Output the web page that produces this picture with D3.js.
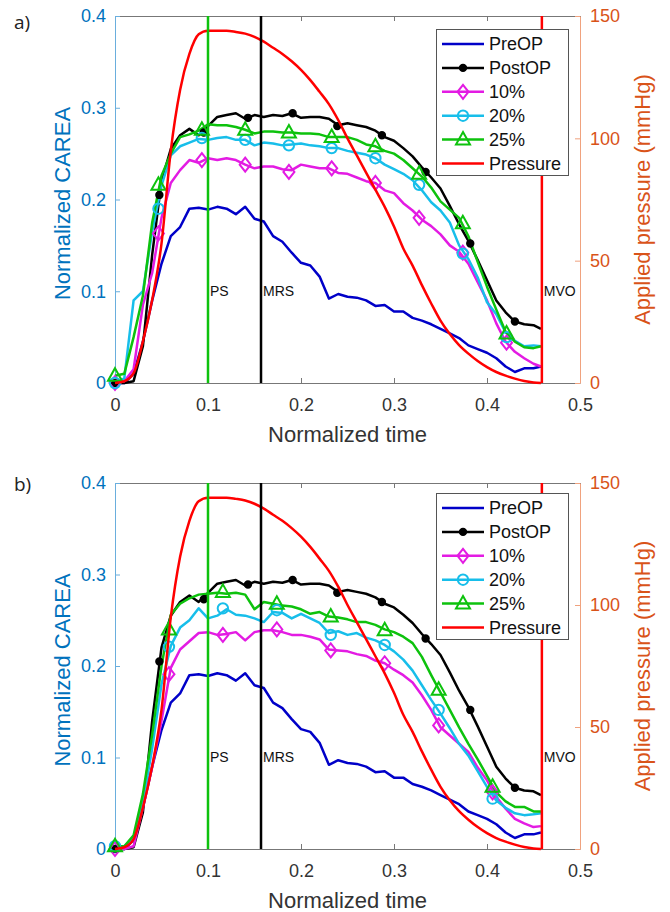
<!DOCTYPE html>
<html>
<head>
<meta charset="utf-8">
<script src="https://cdn.jsdelivr.net/npm/d3@7"></script>
<style>
body{margin:0;background:#fff;}
svg{display:block;font-family:"Liberation Sans",Arial,sans-serif;}
</style>
</head>
<body>
<svg id="chart" width="670" height="912"></svg>
<script>
// ---------------- DATA ----------------
const time = [0,0.01,0.02,0.03,0.04,0.05,0.06,0.07,0.08,0.09,0.10,0.11,0.12,0.13,0.14,0.15,0.16,0.17,0.18,0.19,0.20,0.21,0.22,0.23,0.24,0.25,0.26,0.27,0.28,0.29,0.30,0.31,0.32,0.33,0.34,0.35,0.36,0.37,0.38,0.39,0.40,0.41,0.42,0.43,0.44,0.45,0.458];

const preOP = [0,0,0.01,0.045,0.09,0.13,0.16,0.17,0.19,0.191,0.189,0.192,0.19,0.184,0.192,0.179,0.176,0.16,0.154,0.142,0.131,0.128,0.116,0.092,0.097,0.094,0.093,0.09,0.084,0.085,0.078,0.078,0.071,0.068,0.064,0.059,0.054,0.049,0.041,0.037,0.033,0.027,0.018,0.012,0.016,0.016,0.018];

const postOP = [0,0,0.002,0.04,0.14,0.22,0.255,0.27,0.277,0.27,0.28,0.29,0.292,0.294,0.288,0.292,0.29,0.292,0.291,0.294,0.289,0.29,0.29,0.288,0.281,0.283,0.281,0.279,0.275,0.268,0.264,0.256,0.247,0.235,0.224,0.212,0.193,0.173,0.155,0.134,0.112,0.09,0.077,0.067,0.064,0.063,0.059];

const pressure = [0,0.7,4,17,34,57,95,119.8,134.5,142.5,144,144,144,143.5,142.8,141.5,139.5,137,134.5,131.5,128,123.8,119,114,107.5,100,93,86,79,72,64,55,48,40,32.5,25.5,20,15.5,12,9,6.5,4.5,3,1.8,0.8,0.2,0];

// panel a
const a10 = [0,0.002,0.015,0.085,0.12,0.18,0.218,0.232,0.243,0.24,0.245,0.243,0.245,0.243,0.238,0.234,0.236,0.236,0.233,0.232,0.238,0.236,0.234,0.234,0.229,0.228,0.224,0.22,0.218,0.21,0.207,0.196,0.188,0.178,0.171,0.162,0.15,0.143,0.13,0.11,0.09,0.065,0.045,0.034,0.027,0.021,0.018];
const a20 = [0,0.005,0.09,0.1,0.165,0.215,0.248,0.258,0.262,0.266,0.265,0.267,0.268,0.265,0.265,0.259,0.262,0.261,0.259,0.26,0.261,0.259,0.258,0.256,0.256,0.253,0.251,0.249,0.245,0.238,0.233,0.228,0.221,0.21,0.197,0.188,0.175,0.15,0.135,0.115,0.088,0.075,0.055,0.046,0.04,0.041,0.04];
const a25 = [0.008,0.01,0.05,0.095,0.175,0.226,0.25,0.268,0.271,0.275,0.282,0.281,0.281,0.279,0.276,0.272,0.274,0.274,0.273,0.273,0.272,0.272,0.271,0.268,0.268,0.268,0.265,0.26,0.258,0.253,0.25,0.243,0.234,0.225,0.213,0.198,0.189,0.18,0.16,0.132,0.105,0.08,0.056,0.045,0.039,0.038,0.04];

// panel b
const b10 = [0,0,0.003,0.045,0.09,0.14,0.198,0.218,0.227,0.236,0.237,0.234,0.235,0.237,0.228,0.237,0.239,0.239,0.237,0.234,0.234,0.232,0.229,0.218,0.217,0.216,0.213,0.211,0.206,0.203,0.196,0.19,0.182,0.168,0.152,0.133,0.124,0.115,0.106,0.089,0.075,0.057,0.044,0.033,0.028,0.024,0.025];
const b20 = [0.003,0.003,0.012,0.05,0.11,0.18,0.222,0.242,0.25,0.263,0.252,0.255,0.262,0.256,0.255,0.252,0.248,0.259,0.258,0.252,0.257,0.252,0.247,0.236,0.238,0.234,0.236,0.231,0.228,0.223,0.216,0.207,0.195,0.179,0.163,0.148,0.132,0.115,0.102,0.085,0.068,0.053,0.045,0.039,0.037,0.038,0.039];
const b25 = [0.003,0.003,0.015,0.06,0.125,0.2,0.256,0.268,0.274,0.278,0.279,0.28,0.279,0.28,0.278,0.262,0.27,0.268,0.266,0.265,0.262,0.257,0.259,0.254,0.253,0.251,0.248,0.248,0.245,0.24,0.237,0.232,0.225,0.21,0.19,0.171,0.152,0.133,0.115,0.098,0.08,0.062,0.052,0.046,0.046,0.041,0.041];

// markers
const postMarkT = [0,0.0477,0.0955,0.143,0.191,0.239,0.287,0.334,0.382,0.430];
const postMarkV = [0,0.205,0.273,0.289,0.294,0.28,0.27,0.23,0.152,0.067];

const markTA = [0,0.0467,0.0934,0.140,0.187,0.233,0.280,0.327,0.374,0.421];
const a10Mark = [0,0.163,0.243,0.238,0.230,0.234,0.218,0.180,0.142,0.044];
const a20Mark = [0,0.19,0.267,0.265,0.259,0.256,0.245,0.216,0.141,0.05];
const a25Mark = [0.008,0.216,0.276,0.276,0.273,0.268,0.258,0.228,0.174,0.054];

const markTB = [0,0.058,0.116,0.174,0.232,0.290,0.348,0.406];
const b10Mark = [0,0.191,0.234,0.240,0.217,0.203,0.135,0.062];
const b20Mark = [0.003,0.221,0.263,0.261,0.234,0.223,0.152,0.055];
const b25Mark = [0.003,0.240,0.281,0.268,0.254,0.239,0.174,0.068];

// events
const eventNames = ["PS","MRS","MVO"];
const eventTimes = [0.1,0.157,0.459];
const eventLabelLevel = 0.1;

// ticks & labels
const xTicks = [0,0.1,0.2,0.3,0.4,0.5];
const leftTicks = [0,0.1,0.2,0.3,0.4];
const rightTicks = [0,50,100,150];
const legendLabels = ["PreOP","PostOP","10%","20%","25%","Pressure"];
const panelLabels = ["a)","b)"];
const xTitle = "Normalized time";
const yLeftTitle = "Normalized CAREA";
const yRightTitle = "Applied pressure (mmHg)";

// ---------------- STYLE ----------------
const C = {
  pre:"#0000C8", post:"#000000", p10:"#E31BE3", p20:"#17BEEA", p25:"#0DC20D", press:"#FF0000",
  left:"#0072BD", leftLine:"#6AAEDD", right:"#D95319", rightLine:"#F0A27E", frame:"#777777"
};
const seriesColors = [C.pre, C.post, C.p10, C.p20, C.p25, C.press];
const seriesMarkers = [null, "dot", "diamond", "circle", "triangle", null];
const eventColors = [C.p25, "#000000", C.press];

const svg = d3.select("#chart");
const X0 = 115, X1 = 580;

function markerPath(kind){
  if(kind==="diamond") return "M0,-7L5.5,0L0,7L-5.5,0Z";
  if(kind==="triangle") return "M0,-7.5L7,5L-7,5Z";
  if(kind==="circle") return "M5.2,0A5.2,5.2 0 1,1 -5.2,0A5.2,5.2 0 1,1 5.2,0Z";
  if(kind==="dot") return "M3.2,0A3.2,3.2 0 1,1 -3.2,0A3.2,3.2 0 1,1 3.2,0Z";
  return null;
}

function drawMarkers(g, kind, color, ts, vs, x, y){
  g.selectAll(null).data(ts.map((t,i)=>[t,vs[i]])).enter().append("path")
    .attr("d", markerPath(kind))
    .attr("transform", d=>`translate(${x(d[0])},${y(d[1])})`)
    .attr("fill", kind==="dot" ? color : "none")
    .attr("stroke", color).attr("stroke-width", 2);
}

function drawPanel(p){
  const x = d3.scaleLinear().domain([0,0.5]).range([X0,X1]);
  const yL = d3.scaleLinear().domain([0,0.4]).range([p.bottom,p.top]);
  const yR = d3.scaleLinear().domain([0,150]).range([p.bottom,p.top]);
  const g = svg.append("g");

  // axes
  const gB = g.append("g").attr("transform",`translate(0,${p.bottom})`)
    .call(d3.axisBottom(x).tickValues(xTicks).tickSizeInner(-5).tickSizeOuter(0).tickPadding(15).tickFormat(d3.format("")));
  gB.select(".domain").attr("stroke",C.frame);
  gB.selectAll(".tick line").attr("stroke",C.frame);
  gB.selectAll("text").attr("fill","#333").attr("font-size",18).attr("font-family","Liberation Sans, Arial, sans-serif");

  const gT = g.append("g").attr("transform",`translate(0,${p.top})`)
    .call(d3.axisTop(x).tickValues(xTicks).tickSizeInner(-5).tickSizeOuter(0).tickFormat(""));
  gT.select(".domain").attr("stroke",C.frame);
  gT.selectAll(".tick line").attr("stroke",C.frame);

  const gL = g.append("g").attr("transform",`translate(${X0},0)`)
    .call(d3.axisLeft(yL).tickValues(leftTicks).tickSizeInner(-5).tickSizeOuter(0).tickPadding(9).tickFormat(d3.format("")));
  gL.select(".domain").attr("stroke",C.leftLine);
  gL.selectAll(".tick line").attr("stroke",C.leftLine);
  gL.selectAll("text").attr("fill",C.left).attr("font-size",18).attr("font-family","Liberation Sans, Arial, sans-serif");

  const gR = g.append("g").attr("transform",`translate(${X1},0)`)
    .call(d3.axisRight(yR).tickValues(rightTicks).tickSizeInner(-5).tickSizeOuter(0).tickPadding(10));
  gR.select(".domain").attr("stroke",C.rightLine);
  gR.selectAll(".tick line").attr("stroke",C.rightLine);
  gR.selectAll("text").attr("fill",C.right).attr("font-size",18).attr("font-family","Liberation Sans, Arial, sans-serif");

  // titles
  g.append("text").attr("x",(X0+X1)/2).attr("y",p.bottom+59).attr("text-anchor","middle")
    .attr("font-size",22).attr("fill","#333").text(xTitle);
  const cy = (p.top+p.bottom)/2;
  g.append("text").attr("transform",`translate(70,${cy+4}) rotate(-90)`).attr("text-anchor","middle")
    .attr("font-size",22).attr("fill",C.left).text(yLeftTitle);
  g.append("text").attr("transform",`translate(650,${cy}) rotate(-90)`).attr("text-anchor","middle")
    .attr("font-size",22).attr("fill",C.right).text(yRightTitle);
  g.append("text").attr("x",14).attr("y",p.labelY).attr("font-family","Open Sans, Noto Sans, sans-serif")
    .attr("font-size",19).attr("fill","#222").text(p.label);

  // data lines
  const lineL = d3.line().x((d,i)=>x(time[i])).y(d=>yL(d));
  const series = [preOP, postOP, p.s10, p.s20, p.s25];
  series.forEach((s,i)=>{
    g.append("path").datum(s).attr("d",lineL).attr("fill","none")
      .attr("stroke",seriesColors[i]).attr("stroke-width",2.5).attr("stroke-linejoin","round");
  });
  drawMarkers(g,"dot",C.post,postMarkT,postMarkV,x,yL);
  drawMarkers(g,"diamond",C.p10,p.mT,p.m10,x,yL);
  drawMarkers(g,"circle",C.p20,p.mT,p.m20,x,yL);
  drawMarkers(g,"triangle",C.p25,p.mT,p.m25,x,yL);

  // pressure
  const lineR = d3.line().x((d,i)=>x(time[i])).y(d=>yR(d)).curve(d3.curveMonotoneX);
  g.append("path").datum(pressure).attr("d",lineR).attr("fill","none")
    .attr("stroke",C.press).attr("stroke-width",2.5);

  // event lines
  eventTimes.forEach((t,i)=>{
    g.append("line").attr("x1",x(t)).attr("x2",x(t)).attr("y1",p.top).attr("y2",p.bottom)
      .attr("stroke",eventColors[i]).attr("stroke-width",2.5);
    g.append("text").attr("x",x(t)+2).attr("y",yL(eventLabelLevel)).attr("dy","0.35em")
      .attr("font-size",14).attr("fill","#111").text(eventNames[i]);
  });

  // legend
  const lg = g.append("g");
  const lx = 436, lw = 132, ly = p.legendTop, lh = 146, rowH = 23.9;
  lg.append("rect").attr("x",lx+0.5).attr("y",ly+0.5).attr("width",lw).attr("height",lh)
    .attr("fill","#fff").attr("stroke","#555").attr("stroke-width",1);
  legendLabels.forEach((lab,i)=>{
    const yy = ly + 15 + i*rowH;
    lg.append("line").attr("x1",442).attr("x2",484).attr("y1",yy).attr("y2",yy)
      .attr("stroke",seriesColors[i]).attr("stroke-width",2.5);
    if(seriesMarkers[i]){
      lg.append("path").attr("d",markerPath(seriesMarkers[i])).attr("transform",`translate(463,${yy})`)
        .attr("fill",seriesMarkers[i]==="dot"?seriesColors[i]:"none")
        .attr("stroke",seriesColors[i]).attr("stroke-width",2);
    }
    lg.append("text").attr("x",489).attr("y",yy).attr("dy","0.35em").attr("font-size",18)
      .attr("fill","#111").text(lab);
  });
}

drawPanel({top:16,bottom:383,label:panelLabels[0],labelY:29,legendTop:29,
  s10:a10,s20:a20,s25:a25,mT:markTA,m10:a10Mark,m20:a20Mark,m25:a25Mark});
drawPanel({top:483,bottom:849,label:panelLabels[1],labelY:491,legendTop:493,
  s10:b10,s20:b20,s25:b25,mT:markTB,m10:b10Mark,m20:b20Mark,m25:b25Mark});
</script>
</body>
</html>
